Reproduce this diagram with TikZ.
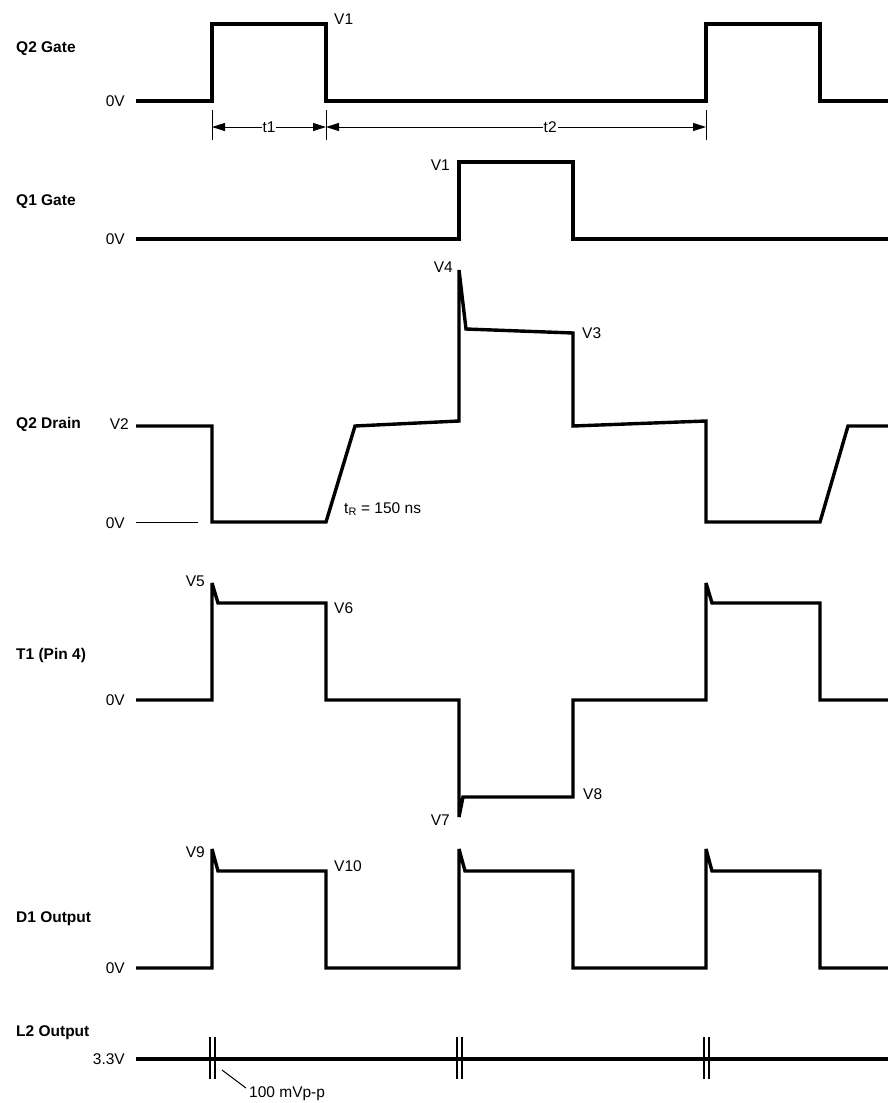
\documentclass[tikz,border=0pt]{standalone}
\usepackage{fontspec}
\setmainfont{Liberation Sans}
\usetikzlibrary{arrows.meta}
\begin{document}
\begin{tikzpicture}[x=1pt,y=-1pt,
  wave/.style={line width=3.4pt, line join=miter, miter limit=2},
  thinline/.style={line width=1pt},
  sig/.style={font=\fontsize{15.5}{16}\selectfont\bfseries, anchor=west, inner sep=0pt},
  val/.style={font=\fontsize{15.5}{16}\selectfont, inner sep=0pt},
  dimline/.style={line width=1pt, {Triangle[length=13pt,width=8pt]}-{Triangle[length=13pt,width=8pt]}},
  dimtext/.style={font=\fontsize{15.5}{16}\selectfont, fill=white, inner sep=1pt}
]
\useasboundingbox (0,0) rectangle (888,1103);

% ---------- signal names ----------
\node[sig] (nQ2G) at (16,49) {Q2 Gate};
\node[sig] (nQ1G) at (16,202) {Q1 Gate};
\node[sig] (nQ2D) at (16,424) {Q2 Drain};
\node[sig] (nT1)  at (16,655) {T1 (Pin 4)};
\node[sig] (nD1)  at (16,919) {D1 Output};
\node[sig] (nL2)  at (16,1033) {L2 Output};

% ---------- level labels ----------
\node[val, anchor=east] (z1) at (125,101) {0V};
\node[val, anchor=east] (z2) at (125,239) {0V};
\node[val, anchor=east] (v2) at (129,424) {V2};
\node[val, anchor=east] (z3) at (125,523) {0V};
\node[val, anchor=east] (z4) at (125,700) {0V};
\node[val, anchor=east] (z5) at (125,968) {0V};
\node[val, anchor=east] (l33) at (125,1059) {3.3V};

% ---------- Q2 Gate ----------
\draw[wave] (136,101) -- (212,101) -- (212,24) -- (326,24) -- (326,101)
  -- (706,101) -- (706,24) -- (820,24) -- (820,101) -- (888,101);
\node[val, anchor=west] (q2v1) at (334,19) {V1};

% dimension t1 / t2
\coordinate (k1) at (212,127);
\coordinate (k2) at (326,127);
\coordinate (k3) at (706,127);
\draw[thinline] (212,110) -- (212,140);
\draw[thinline] (326,110) -- (326,140);
\draw[thinline] (706,110) -- (706,140);
\draw[dimline] (k1) -- (k2) node[dimtext, pos=0.5] (t1) {t1};
\draw[dimline] (k2) -- (k3) node[dimtext, pos=0.59] (t2) {t2};

% ---------- Q1 Gate ----------
\draw[wave] (136,239) -- (459,239) -- (459,162) -- (573,162) -- (573,239) -- (888,239);
\node[val, anchor=east] (q1v1) at (450,165) {V1};

% ---------- Q2 Drain ----------
\draw[thinline] (136,522) -- (198,522);
\draw[wave] (136,426) -- (212,426) -- (212,522) -- (326,522) -- (355,426)
  -- (459,421) -- (459,270) -- (466,329) -- (573,333) -- (573,426)
  -- (706,421) -- (706,522) -- (820,522) -- (848,426) -- (888,426);
\node[val, anchor=east] (v4) at (453,267) {V4};
\node[val, anchor=west] (v3) at (582,333) {V3};
\node[val, anchor=west] (tr) at (344,509) {t\textsubscript{R} = 150 ns};

% ---------- T1 (Pin 4) ----------
\draw[wave] (136,700) -- (212,700) -- (212,583) -- (218,603) -- (326,603) -- (326,700)
  -- (459,700) -- (459,817) -- (463,797) -- (573,797) -- (573,700)
  -- (706,700) -- (706,583) -- (712,603) -- (820,603) -- (820,700) -- (888,700);
\node[val, anchor=east] (v5) at (205,581) {V5};
\node[val, anchor=west] (v6) at (334,608) {V6};
\node[val, anchor=east] (v7) at (450,820) {V7};
\node[val, anchor=west] (v8) at (583,794) {V8};

% ---------- D1 Output ----------
\draw[wave] (136,968) -- (212,968) -- (212,849) -- (218,871) -- (326,871) -- (326,968)
  -- (459,968) -- (459,849) -- (465,871) -- (573,871) -- (573,968)
  -- (706,968) -- (706,849) -- (712,871) -- (820,871) -- (820,968) -- (888,968);
\node[val, anchor=east] (v9) at (205,852) {V9};
\node[val, anchor=west] (v10) at (334,866) {V10};

% ---------- L2 Output ----------
\draw[wave] (136,1059) -- (888,1059);
\foreach \x in {212,459,706} {
  \draw[line width=1.6pt] (\x-2,1037) -- (\x-2,1079);
  \draw[line width=1.6pt] (\x+3,1037) -- (\x+3,1079);
}
\node[val, anchor=west] (rip) at (249,1094) {100 mVp-p};
\coordinate (ripA) at (222,1070);
\draw[thinline] (ripA) -- (246,1088);
\end{tikzpicture}
\end{document}
